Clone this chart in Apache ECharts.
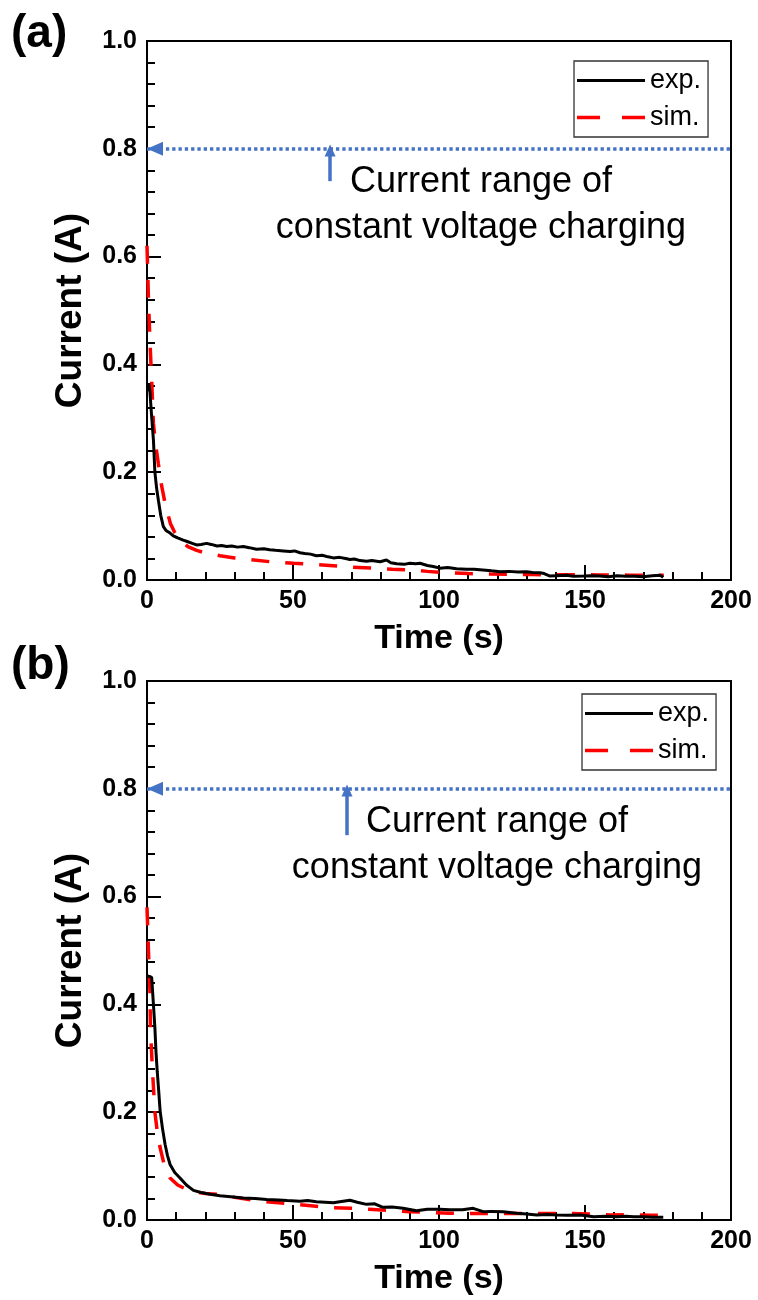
<!DOCTYPE html>
<html>
<head>
<meta charset="utf-8">
<script src="https://cdn.jsdelivr.net/npm/echarts@6/dist/echarts.min.js"></script>
<style>
html,body{margin:0;padding:0;background:#fff;}
#chart{width:758px;height:1300px;}
</style>
</head>
<body>
<div id="chart"></div>
<script>
// ---- data ----
var xTicks = [0, 50, 100, 150, 200];
var yTicks = [0.0, 0.2, 0.4, 0.6, 0.8, 1.0];
var cvCurrent = 0.8; // current range of constant-voltage charging

var expA = [[0.3,0.35],[0.6,0.365],[1.0,0.35],[1.5,0.31],[2.2,0.26],[2.7,0.20],[3.3,0.17],[3.9,0.148],[4.7,0.12],[5.6,0.099],[6.5,0.092],[7.9,0.087],[9,0.082],[10.5,0.078],[12.4,0.074],[14,0.071],[15.5,0.068],[17,0.065],[18.5,0.066],[20.4,0.068],[22,0.066],[24,0.063],[25.5,0.064],[27.3,0.062],[29,0.063],[31,0.061],[33,0.062],[35,0.060],[37.5,0.057],[40,0.058],[42,0.056],[44,0.055],[46.7,0.054],[49,0.053],[50.5,0.054],[52.4,0.0505],[54,0.049],[56,0.048],[58,0.045],[60,0.046],[62,0.043],[63.8,0.041],[66,0.042],[68,0.040],[69.5,0.038],[71,0.039],[73,0.036],[75.2,0.035],[77,0.036],[79.8,0.034],[82,0.037],[83.5,0.032],[85.5,0.030],[88,0.029],[90,0.031],[92,0.030],[93.5,0.031],[96,0.027],[98,0.025],[100.3,0.022],[103,0.023],[106,0.021],[109.5,0.020],[112,0.020],[115,0.0186],[118,0.017],[120.9,0.0155],[124,0.016],[127,0.015],[130,0.0155],[132,0.014],[134.6,0.0136],[136,0.012],[138,0.0074],[140,0.008],[143.8,0.009],[146,0.007],[149.5,0.0074],[152,0.008],[155,0.0074],[158,0.006],[161,0.008],[164,0.007],[167,0.007],[170,0.006],[173,0.008],[175.7,0.009],[176.8,0.005]];

var simA = [[0,0.62],[0.5,0.52],[1,0.445],[1.6,0.371],[2.2,0.29],[3,0.25],[3.9,0.215],[5,0.175],[6.2,0.142],[8,0.105],[9.5,0.088],[11.3,0.074],[14,0.062],[17,0.055],[20.4,0.0495],[25,0.045],[30,0.041],[35.3,0.038],[42,0.034],[50.2,0.031],[57,0.029],[63.8,0.0266],[70,0.024],[77,0.022],[84,0.020],[90,0.0186],[96,0.016],[102.6,0.0136],[110,0.012],[117.5,0.011],[125,0.0105],[132,0.010],[143.8,0.0098],[155,0.0095],[165,0.009],[172,0.009],[177,0.009]];

var expB = [[0.2,0.453],[0.8,0.455],[1.6,0.45],[2.2,0.40],[2.7,0.357],[3.1,0.31],[3.5,0.276],[4,0.24],[4.5,0.202],[5.3,0.17],[6.2,0.14],[7,0.12],[7.9,0.103],[9.5,0.088],[11.3,0.078],[13.5,0.065],[15.9,0.055],[18.5,0.051],[21.6,0.0477],[25,0.045],[29.6,0.0427],[33,0.041],[37,0.040],[41,0.038],[45,0.037],[48,0.036],[52.4,0.035],[55,0.036],[58,0.034],[61,0.033],[63.8,0.032],[66,0.034],[69.5,0.0365],[72,0.033],[75.2,0.029],[78,0.030],[80.8,0.0235],[84,0.024],[87.7,0.0217],[92.3,0.017],[96,0.020],[100.3,0.0198],[103.7,0.019],[108,0.019],[111.7,0.0217],[115.1,0.0154],[118,0.016],[122,0.0154],[126.6,0.0124],[130,0.011],[133.5,0.0093],[137,0.010],[140.4,0.0093],[144,0.009],[148.4,0.0093],[153,0.006],[157,0.007],[161,0.006],[164,0.007],[166.7,0.006],[170,0.006],[173,0.005],[176.8,0.005]];

var simB = [[0,0.58],[0.5,0.5],[1,0.425],[1.2,0.35],[1.9,0.276],[2.7,0.2],[3.5,0.165],[4.5,0.134],[6,0.10],[7.9,0.078],[10.5,0.065],[13.5,0.057],[17,0.052],[20,0.049],[23.8,0.0477],[30,0.042],[38.7,0.035],[45,0.032],[51,0.029],[57,0.026],[62.7,0.023],[70,0.022],[76,0.020],[82,0.018],[90.1,0.0154],[97,0.014],[103.8,0.0124],[115,0.012],[130,0.012],[145,0.012],[152,0.011],[158.6,0.0093],[165,0.010],[172.3,0.009],[177,0.009]];

var seriesNames = ['exp.', 'sim.'];
var panelLabels = ['(a)', '(b)'];
var noteLines = ['Current range of', 'constant voltage charging'];
var upArrowA = [[62.7, 0.74], [62.7, 0.797]];
var upArrowB = [[68.5, 0.714], [68.5, 0.797]];

// ---- chart ----
var FONT = '"Liberation Sans", Arial, Helvetica, sans-serif';
var BLUE = '#4472C4';
var chart = echarts.init(document.getElementById('chart'), null, {renderer: 'canvas'});

function makeX(gi) {
  return {
    type: 'value', gridIndex: gi, min: xTicks[0], max: xTicks[xTicks.length-1], interval: 50,
    name: 'Time (s)', nameLocation: 'middle', nameGap: 42,
    nameTextStyle: {fontFamily: FONT, fontWeight: 'bold', fontSize: 34, color: '#000'},
    axisLine: {show: true, onZero: false, lineStyle: {color: '#000', width: 2}},
    axisTick: {show: true, inside: true, length: 15, lineStyle: {color: '#000', width: 2}},
    minorTick: {show: true, splitNumber: 5, length: 8, lineStyle: {color: '#000', width: 2}},
    axisLabel: {fontFamily: FONT, fontWeight: 'bold', fontSize: 25, color: '#000', margin: 9},
    splitLine: {show: false}, minorSplitLine: {show: false}
  };
}
function makeY(gi) {
  return {
    type: 'value', gridIndex: gi, min: yTicks[0], max: yTicks[yTicks.length-1], interval: 0.2,
    name: 'Current (A)', nameLocation: 'middle', nameGap: 58, nameRotate: 90,
    nameTextStyle: {fontFamily: FONT, fontWeight: 'bold', fontSize: 37, color: '#000'},
    axisLine: {show: true, onZero: false, lineStyle: {color: '#000', width: 2}},
    axisTick: {show: true, inside: true, length: 14, lineStyle: {color: '#000', width: 2}},
    minorTick: {show: true, splitNumber: 5, length: 8, lineStyle: {color: '#000', width: 2}},
    axisLabel: {fontFamily: FONT, fontWeight: 'bold', fontSize: 25, color: '#000', margin: 10,
      formatter: function (v) { return v.toFixed(1); }},
    splitLine: {show: false}, minorSplitLine: {show: false}
  };
}
function expSeries(data, gi) {
  return {name: seriesNames[0], type: 'line', xAxisIndex: gi, yAxisIndex: gi, data: data,
    showSymbol: false, symbol: 'none', silent: true, z: 3,
    lineStyle: {color: '#000', width: 3}, itemStyle: {color: '#000'}};
}
function simSeries(data, gi) {
  return {name: seriesNames[1], type: 'line', xAxisIndex: gi, yAxisIndex: gi, data: data,
    showSymbol: false, symbol: 'none', silent: true, z: 2,
    lineStyle: {color: '#FF0000', width: 3.5, type: [18, 16]}, itemStyle: {color: '#FF0000'}};
}
function annotSeries(gi, up) {
  return {name: 'annot' + gi, type: 'line', xAxisIndex: gi, yAxisIndex: gi, data: [], clip: false,
    silent: true, z: 4,
    markLine: {
      silent: true, animation: false,
      label: {show: false},
      emphasis: {disabled: true},
      data: [
        [{coord: [xTicks[0], cvCurrent], symbol: 'triangle', symbolSize: [14, 16], symbolOffset: [0, 8],
          lineStyle: {color: BLUE, width: 3.5, type: [3.3, 3]}},
         {coord: [xTicks[xTicks.length-1], cvCurrent], symbol: 'none'}],
        [{coord: up[0], symbol: 'none', lineStyle: {color: BLUE, width: 3.5, type: 'solid'}},
         {coord: up[1], symbol: 'triangle', symbolSize: [11, 12]}]
      ],
      lineStyle: {color: BLUE},
      itemStyle: {color: BLUE}
    }
  };
}
function legendAt(left, top) {
  return {
    left: left, top: top, orient: 'vertical',
    data: [
      {name: seriesNames[0], icon: 'path://M0,0h68v3h-68z'},
      {name: seriesNames[1], icon: 'path://M0,0h20v3h-20zM39,0h20v3h-20z'}
    ],
    itemWidth: 68, itemHeight: 3.5, itemGap: 10,
    padding: [6, 7, 6, 3],
    borderColor: '#333', borderWidth: 1.3, borderRadius: 0,
    textStyle: {fontFamily: FONT, fontSize: 27, color: '#000'},
    selectedMode: false
  };
}

var option = {
  backgroundColor: '#fff',
  animation: false,
  grid: [
    {left: 147, top: 41, width: 584, height: 539, show: true, borderColor: '#000', borderWidth: 2, backgroundColor: 'transparent'},
    {left: 147, top: 681, width: 584, height: 539, show: true, borderColor: '#000', borderWidth: 2, backgroundColor: 'transparent'}
  ],
  xAxis: [makeX(0), makeX(1)],
  yAxis: [makeY(0), makeY(1)],
  legend: [legendAt(574, 61), legendAt(582, 694)],
  series: [
    annotSeries(0, upArrowA),
    simSeries(simA, 0), expSeries(expA, 0),
    annotSeries(1, upArrowB),
    simSeries(simB, 1), expSeries(expB, 1)
  ],
  graphic: [
    {type: 'text', x: 11, y: 11, silent: true, style: {text: panelLabels[0], fill: '#000', font: 'bold 46px ' + FONT}},
    {type: 'text', x: 11, y: 643, silent: true, style: {text: panelLabels[1], fill: '#000', font: 'bold 46px ' + FONT}},
    {type: 'text', x: 481, y: 164, silent: true, style: {text: noteLines[0], fill: '#000', font: '36px ' + FONT, align: 'center'}},
    {type: 'text', x: 481, y: 210, silent: true, style: {text: noteLines[1], fill: '#000', font: '36px ' + FONT, align: 'center'}},
    {type: 'text', x: 497, y: 804, silent: true, style: {text: noteLines[0], fill: '#000', font: '36px ' + FONT, align: 'center'}},
    {type: 'text', x: 497, y: 850, silent: true, style: {text: noteLines[1], fill: '#000', font: '36px ' + FONT, align: 'center'}}
  ]
};
chart.setOption(option);
</script>
</body>
</html>
